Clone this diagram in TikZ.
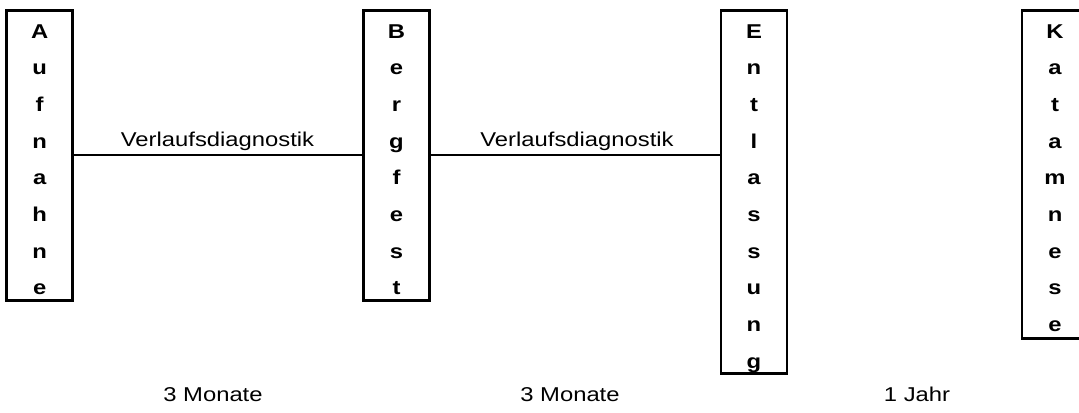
\documentclass[tikz,border=0pt]{standalone}
\usepackage{graphicx}
\usepackage{fontspec}
\setmainfont{Liberation Sans}
% text in this chart is set slightly wider than the font's natural width
\newcommand{\widetext}[1]{\scalebox{1.19}[1]{#1}}
\begin{document}
\begin{tikzpicture}[x=0.5pt,y=-0.5pt,
  phase/.style={draw=black,line width=1.25pt,rectangle,inner sep=0pt,
    minimum width=33pt,anchor=north},
  letter/.style={inner sep=0pt,anchor=base,
    font=\fontsize{10pt}{12pt}\selectfont\bfseries},
  label/.style={inner sep=0pt,anchor=base,
    font=\fontsize{10pt}{12pt}\selectfont},
  link/.style={line width=1pt}]
\clip (0,0) rectangle (1079,412);
\fill[white] (0,0) rectangle (1079,412);

% phase boxes
\node[phase,minimum height=145pt]   (aufnahme)   at (39.7,9) {};
\node[phase,minimum height=145pt]   (bergfest)   at (396.5,9) {};
\node[phase,minimum height=181.5pt] (entlassung) at (754,9) {};
\node[phase,minimum height=164pt]   (katamnese)  at (1055,9) {};

% vertical lettering inside the boxes
\foreach \c [count=\i] in {A,u,f,n,a,h,n,e}
  \node[letter] (aufnahme-\i) at (39.7,{38+36.7*(\i-1)}) {\widetext{\c}};
\foreach \c [count=\i] in {B,e,r,g,f,e,s,t}
  \node[letter] (bergfest-\i) at (396.5,{38+36.7*(\i-1)}) {\widetext{\c}};
\foreach \c [count=\i] in {E,n,t,l,a,s,s,u,n,g}
  \node[letter] (entlassung-\i) at (754,{38+36.7*(\i-1)}) {\widetext{\c}};
\foreach \c [count=\i] in {K,a,t,a,m,n,e,s,e}
  \node[letter] (katamnese-\i) at (1055,{38+36.7*(\i-1)}) {\widetext{\c}};

% connections between the phases
\draw[link] (aufnahme.east) -- (bergfest.west);
\draw[link] (bergfest.east) -- (entlassung.west |- bergfest.east);

\node[label] (diag1) at (217.5,146) {\widetext{Verlaufsdiagnostik}};
\node[label] (diag2) at (577,146) {\widetext{Verlaufsdiagnostik}};

% durations
\node[label] (dur1) at (213,401) {\widetext{3 Monate}};
\node[label] (dur2) at (570,401) {\widetext{3 Monate}};
\node[label] (dur3) at (917,401) {\widetext{1 Jahr}};
\end{tikzpicture}
\end{document}
